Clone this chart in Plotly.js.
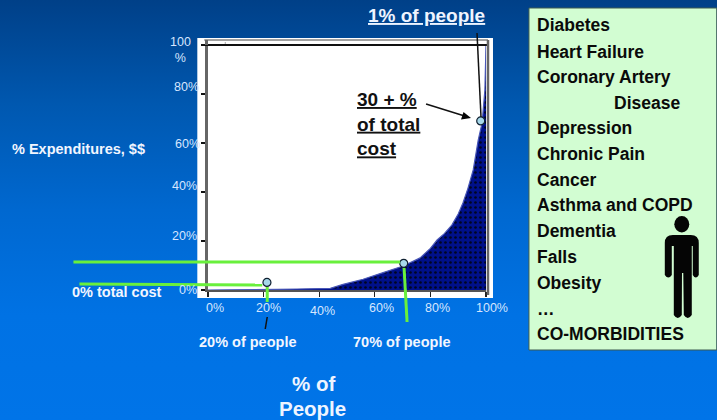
<!DOCTYPE html>
<html>
<head>
<meta charset="utf-8">
<script src="https://cdn.plot.ly/plotly-3.0.1.min.js"></script>
<style>
  html, body { margin: 0; padding: 0; width: 717px; height: 420px; overflow: hidden;
    background: linear-gradient(180deg, #004088 0%, #0058b0 25%, #0068d0 50%, #0072e4 75%, #0074e8 100%); }
  #chart { width: 717px; height: 420px; }
</style>
</head>
<body>
<div id="chart"></div>
<script>
// Cumulative share of spending against share of people
const peoplePct = [0, 20, 25, 32, 40, 44, 48.6, 55.8, 63, 70.2, 76.3, 80, 82.4, 85, 87.7, 90, 91.7, 93.5, 95.4, 97.2, 98.6, 98.9, 99.6, 100];
const costPct   = [0, 0, 0.3, 0.4, 0.4, 0.7, 2.3, 4.4, 7.1, 9.8, 13.1, 17, 20.4, 23, 26.5, 31, 35.5, 41.5, 49, 61.2, 68.2, 73.5, 81.6, 100];

// Highlighted points
const markerPeople = [21.2, 70.4, 98.1];
const markerCost   = [3.1, 10.9, 69];

// Axis labels
const xTicks = [0, 20, 40, 60, 80, 100];
const xTickText = ['0%', '20%', '40%', '60%', '80%', '100%'];
const yTicks = [0, 20, 40, 60, 80, 100];
const yTickText = ['0%', '20%', '40%', '60%', '80%', '100<br>%'];

// Conditions listed in the side panel
const conditions = ['Diabetes', 'Heart Failure', 'Coronary Artery', 'Disease', 'Depression', 'Chronic Pain',
  'Cancer', 'Asthma and COPD', 'Dementia', 'Falls', 'Obesity', '…', 'CO-MORBIDITIES'];

// Plot frame in page pixels
const W = 717, H = 420, L = 207.7, R = 486, T = 45, B = 290;
const px = v => (v - L) / (R - L);
const py = v => (B - v) / (B - T);

// Hand-placed label offsets around the axes
const xLabelX = [215, 268, 322, 381, 437, 492];
const xLabelY = [308, 308, 311, 308, 308, 308];
const yLabelX = [188, 184, 184, 187, 186, 180];
const yLabelY = [290, 236, 186, 144, 87, 50];
const conditionY = [25, 52, 77, 103, 128, 154, 180, 205, 231, 257, 283, 309, 334];

const lightText = '#d6e6ff';
const sans = 'Liberation Sans, Arial, sans-serif';

function note(text, x, y, size, color, bold, anchor, align) {
  return {
    text: bold ? '<b>' + text + '</b>' : text,
    xref: 'paper', yref: 'paper', x: px(x), y: py(y),
    xanchor: anchor || 'center', yanchor: 'middle', align: align || 'center',
    showarrow: false, borderpad: 0, borderwidth: 0,
    font: { family: sans, size: size, color: color }
  };
}

const annotations = [];
xTickText.forEach((t, i) => annotations.push(note(t, xLabelX[i], xLabelY[i], 12.5, lightText, false)));
yTickText.forEach((t, i) => annotations.push(note(t, yLabelX[i], yLabelY[i], 12.5, lightText, false)));
annotations.push(
  note('<u>1% of people</u>', 426, 16, 19, '#eef4ff', true),
  note('<u>30 + %</u><br><u>of total</u><br><u>cost</u>', 357, 124, 19, '#111111', true, 'left', 'left'),
  note('% Expenditures, $$', 78, 149, 14.5, '#f2f6ff', true),
  note('0% total cost', 117, 292, 14.5, '#f2f6ff', true),
  note('20% of people', 248, 342, 14.5, '#f2f6ff', true),
  note('70% of people', 402, 342, 14.5, '#f2f6ff', true),
  note('% of', 313, 383, 20.5, '#eef4ff', true),
  note('People', 312, 408, 20.5, '#eef4ff', true)
);
conditions.forEach((c, i) => annotations.push(
  note(c, c === 'Disease' ? 614 : 537, conditionY[i], 17.5, '#0a0a0a', true, 'left', 'left')));

function seg(x0, y0, x1, y1, color, width, layer) {
  return { type: 'line', xref: 'paper', yref: 'paper', x0: px(x0), y0: py(y0), x1: px(x1), y1: py(y1),
    line: { color: color, width: width }, layer: layer || 'above' };
}
function box(x0, y0, x1, y1, fill, lineColor, layer) {
  return { type: 'rect', xref: 'paper', yref: 'paper', x0: px(x0), y0: py(y0), x1: px(x1), y1: py(y1),
    fillcolor: fill, line: { color: lineColor || fill, width: lineColor ? 1 : 0 }, layer: layer || 'above' };
}
function outline(cmds) {
  // Path given in page pixels as [command, x, y, ...] groups
  const d = cmds.map(c => {
    let s = c[0];
    for (let i = 1; i < c.length; i += 2) s += ' ' + px(c[i]).toFixed(5) + ',' + py(c[i + 1]).toFixed(5);
    return s;
  }).join(' ');
  return { type: 'path', xref: 'paper', yref: 'paper', path: d + ' Z', fillcolor: '#050505', line: { width: 0 }, layer: 'above' };
}

const green = '#69f03c';
const shapes = [
  // White chart panel
  box(197, 38, 493, 298, '#ffffff', null, 'below'),
  // Frame around the plot
  seg(204, 40, 488, 40, '#444444', 1),
  seg(202, 45, 488, 45, '#111111', 1.8),
  seg(488, 40, 488, 295, '#666666', 2.5),
  seg(206.2, 40, 206.2, 45, '#666666', 3),
  box(224.5, 42.5, 225.5, 43.5, '#555555'),
  // Callout rules
  seg(73, 262, 400, 262, green, 3),
  seg(79, 284, 262, 285, green, 3),
  seg(267, 287, 267, 302, green, 3),
  seg(404, 268, 407, 322, green, 3),
  seg(477, 33, 481, 117, '#111111', 1.5),
  seg(267, 317, 265, 329, '#111111', 1.5),
  seg(426, 104, 463, 115.5, '#111111', 1.5),
  outline([['M', 471, 118], ['L', 461, 119.5], ['L', 463.5, 112]]),
  // Side panel
  box(529, 8, 717, 350, '#d2fdd2', '#3d5a50', 'below'),
  // Figure icon
  { type: 'circle', xref: 'paper', yref: 'paper', x0: px(674.5), x1: px(689.5), y0: py(216), y1: py(232.5),
    fillcolor: '#050505', line: { width: 0 }, layer: 'above' },
  outline([['M', 665, 243], ['Q', 665, 235, 673, 235], ['L', 691, 235], ['Q', 699, 235, 699, 243],
    ['L', 699, 275], ['Q', 696, 280, 693, 275], ['L', 693, 246], ['L', 692, 246], ['L', 692, 315],
    ['Q', 688, 321, 684, 315], ['L', 683.5, 273], ['L', 682.2, 273], ['L', 682, 315],
    ['Q', 678, 321, 674, 315], ['L', 674, 246], ['L', 672, 246], ['L', 672, 275],
    ['Q', 668.5, 280, 665, 275]])
];

const traces = [
  {
    x: peoplePct, y: costPct, type: 'scatter', mode: 'lines', fill: 'tozeroy',
    line: { color: '#4a58b8', width: 1.2 },
    fillcolor: '#00108a',
    fillpattern: { shape: '.', bgcolor: '#00108a', fgcolor: '#000520', size: 5, solidity: 0.22 },
    hoverinfo: 'x+y', showlegend: false
  },
  {
    x: markerPeople, y: markerCost, type: 'scatter', mode: 'markers',
    marker: { size: 8, color: '#a6d8ea', line: { color: '#102030', width: 1.2 } },
    hoverinfo: 'x+y', showlegend: false, cliponaxis: false
  }
];

const layout = {
  width: W, height: H, autosize: false,
  margin: { l: L, r: W - R, t: T, b: H - B, pad: 0 },
  paper_bgcolor: 'rgba(0,0,0,0)', plot_bgcolor: 'rgba(0,0,0,0)',
  showlegend: false,
  xaxis: {
    range: [0, 100], tickmode: 'array', tickvals: xTicks, showticklabels: false,
    ticks: 'outside', ticklen: 5, tickwidth: 1.2, tickcolor: '#222222',
    showgrid: false, zeroline: false, showline: true, linecolor: '#555555', linewidth: 2
  },
  yaxis: {
    range: [0, 100], tickmode: 'array', tickvals: yTicks, showticklabels: false,
    ticks: 'outside', ticklen: 4, tickwidth: 1.5, tickcolor: '#111111',
    showgrid: false, zeroline: false, showline: true, linecolor: '#666666', linewidth: 3
  },
  annotations: annotations,
  shapes: shapes
};

Plotly.newPlot('chart', traces, layout, { displayModeBar: false, staticPlot: true });
</script>
</body>
</html>
